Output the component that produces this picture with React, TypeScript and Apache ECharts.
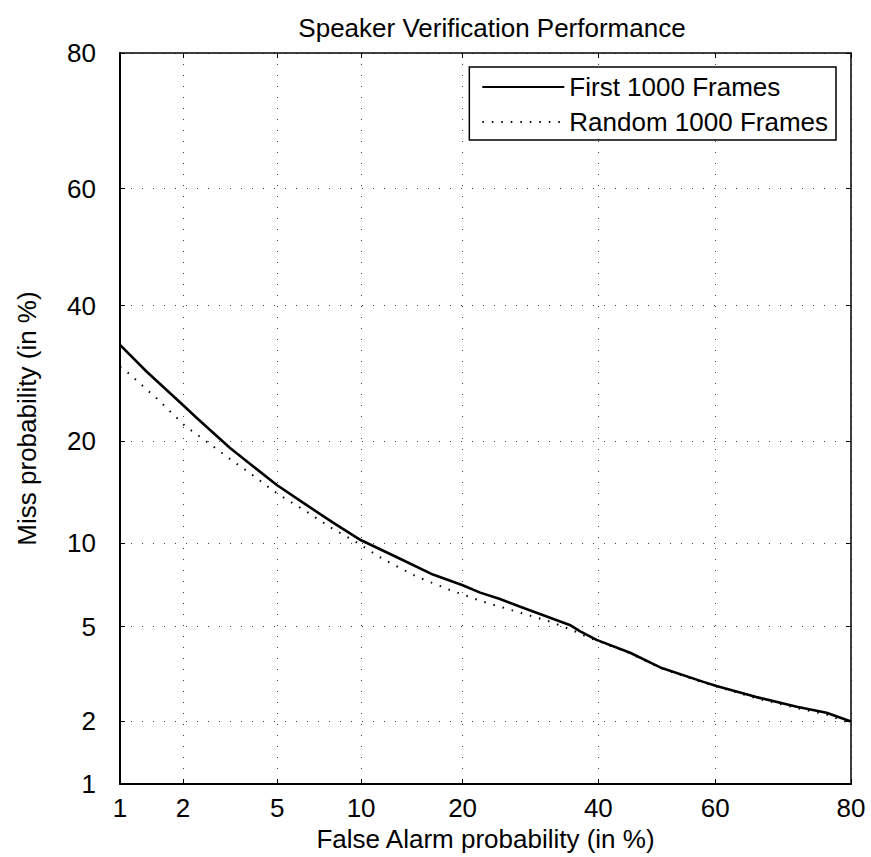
import React, { useEffect, useRef } from "react";
import * as echarts from "echarts";

// Tick labels (percent) shared by both axes
const tickPercents = [1, 2, 5, 10, 20, 40, 60, 80];

// "First 1000 Frames" (solid) — False Alarm % / Miss %
const firstFA = [1.0, 1.35, 2.0, 2.31, 3.22, 4.98, 6.26, 8.03, 9.97, 13.29, 16.6, 19.93, 22.2, 24.84, 27.7, 35.3, 37.0, 39.7, 45.4, 50.6, 58.0, 60.2, 66.7, 72.8, 76.9, 80.0];
const firstMiss = [33.6, 29.5, 24.7, 22.96, 19.2, 15.14, 13.41, 11.63, 10.22, 8.85, 7.8, 7.16, 6.72, 6.37, 5.96, 5.08, 4.8, 4.44, 3.94, 3.43, 2.98, 2.86, 2.56, 2.32, 2.18, 1.99];

// "Random 1000 Frames" (dotted)
const randomFA = [1.0, 1.07, 1.54, 2.05, 2.49, 3.27, 3.9, 4.98, 6.46, 8.05, 9.47, 11.8, 14.9, 18.5, 22.6, 27.2, 32.2, 35.6, 38.1, 45.4, 50.6, 58.0, 66.7, 72.8, 76.9, 80.0];
const randomMiss = [30.2, 29.6, 25.4, 21.9, 20.2, 17.8, 16.36, 14.31, 12.59, 11.08, 10.17, 8.81, 7.67, 6.87, 6.22, 5.71, 5.23, 4.86, 4.57, 3.92, 3.41, 2.96, 2.53, 2.29, 2.14, 1.95];

const seriesNames = ["First 1000 Frames", "Random 1000 Frames"];

// Inverse standard normal CDF (Acklam)
function probit(p: number): number {
  const a = [-3.969683028665376e1, 2.209460984245205e2, -2.759285104469687e2, 1.38357751867269e2, -3.066479806614716e1, 2.506628277459239];
  const b = [-5.447609879822406e1, 1.615858368580409e2, -1.556989798598866e2, 6.680131188771972e1, -1.328068155288572e1];
  const c = [-7.784894002430293e-3, -3.223964580411365e-1, -2.400758277161838, -2.549732539343734, 4.374664141464968, 2.938163982698783];
  const d = [7.784695709041462e-3, 3.224671290700398e-1, 2.445134137142996, 3.754408661907416];
  const pl = 0.02425;
  let q: number, r: number;
  if (p < pl) {
    q = Math.sqrt(-2 * Math.log(p));
    return (((((c[0] * q + c[1]) * q + c[2]) * q + c[3]) * q + c[4]) * q + c[5]) / ((((d[0] * q + d[1]) * q + d[2]) * q + d[3]) * q + 1);
  }
  if (p <= 1 - pl) {
    q = p - 0.5;
    r = q * q;
    return ((((((a[0] * r + a[1]) * r + a[2]) * r + a[3]) * r + a[4]) * r + a[5]) * q) / (((((b[0] * r + b[1]) * r + b[2]) * r + b[3]) * r + b[4]) * r + 1);
  }
  q = Math.sqrt(-2 * Math.log(1 - p));
  return -(((((c[0] * q + c[1]) * q + c[2]) * q + c[3]) * q + c[4]) * q + c[5]) / ((((d[0] * q + d[1]) * q + d[2]) * q + d[3]) * q + 1);
}

const pz = (percent: number) => probit(percent / 100);

export default function App() {
  const ref = useRef<HTMLDivElement>(null);

  useEffect(() => {
    if (!ref.current) return;
    const chart = echarts.init(ref.current, null, { renderer: "svg" });
    const lo = pz(tickPercents[0]);
    const hi = pz(tickPercents[tickPercents.length - 1]);
    const tickVals = tickPercents.map(pz);
    const fmt = (v: number) => {
      let best = 0;
      let bd = Infinity;
      tickVals.forEach((t, i) => {
        const dd = Math.abs(t - v);
        if (dd < bd) {
          bd = dd;
          best = i;
        }
      });
      return String(tickPercents[best]);
    };
    const font = "'Liberation Sans', Arial, Helvetica, sans-serif";
    const fs = 26;

    const gridLine = { show: true, lineStyle: { color: "#444", width: 1, type: [1, 10] } };

    const mainAxis = (name: string, nameGap: number, labelMargin: number) => ({
      type: "value",
      min: lo,
      max: hi,
      name,
      nameLocation: "middle",
      nameGap,
      nameTextStyle: { fontSize: fs, fontFamily: font, color: "#000" },
      axisLine: { show: true, onZero: false, lineStyle: { color: "#000", width: 2 } },
      axisTick: { show: true, inside: true, length: 5, customValues: tickVals, lineStyle: { color: "#000", width: 1 } },
      axisLabel: {
        show: true,
        customValues: tickVals,
        formatter: fmt,
        margin: labelMargin,
        fontSize: fs,
        fontFamily: font,
        color: "#000",
      },
      splitLine: gridLine,
    });

    const mirrorAxis = (position: string) => ({
      type: "value",
      position,
      min: lo,
      max: hi,
      axisLine: { show: true, onZero: false, lineStyle: { color: "#000", width: 1.5 } },
      axisTick: { show: true, inside: true, length: 5, customValues: tickVals, lineStyle: { color: "#000", width: 1 } },
      axisLabel: { show: false },
      splitLine: { show: false },
    });

    chart.setOption({
      animation: false,
      backgroundColor: "#fff",
      title: {
        text: "Speaker Verification Performance",
        left: 487,
        top: 10,
        textAlign: "center",
        textStyle: { fontSize: fs, fontWeight: "normal", fontFamily: font, color: "#000" },
      },
      legend: {
        orient: "vertical",
        right: 35,
        top: 67,
        padding: [7, 8, 5, 12],
        itemGap: 9,
        itemWidth: 82,
        itemHeight: 26,
        borderColor: "#000",
        borderWidth: 1.5,
        backgroundColor: "#fff",
        itemStyle: { opacity: 0 },
        textStyle: { fontSize: fs, fontFamily: font, color: "#000" },
        data: seriesNames,
      },
      grid: { left: 120, top: 53, width: 731, height: 731, containLabel: false },
      xAxis: [
        { ...mainAxis("False Alarm probability (in %)", 33, 11), position: "bottom" },
        mirrorAxis("top"),
      ],
      yAxis: [
        { ...mainAxis("Miss probability (in %)", 80, 24), position: "left" },
        mirrorAxis("right"),
      ],
      series: [
        {
          name: seriesNames[0],
          type: "line",
          symbol: "none",
          showSymbol: false,
          xAxisIndex: 0,
          yAxisIndex: 0,
          data: firstFA.map((f, i) => [pz(f), pz(firstMiss[i])]),
          lineStyle: { color: "#000", width: 2.6 },
          itemStyle: { color: "#000" },
          z: 3,
        },
        {
          name: seriesNames[1],
          type: "line",
          symbol: "none",
          showSymbol: false,
          xAxisIndex: 0,
          yAxisIndex: 0,
          data: randomFA.map((f, i) => [pz(f), pz(randomMiss[i])]),
          lineStyle: { color: "#000", width: 2, type: [1.5, 8] },
          itemStyle: { color: "#000" },
          z: 2,
        },
      ],
    });
    return () => chart.dispose();
  }, []);

  return (
    <div
      ref={ref}
      style={{ position: "absolute", left: 0, top: 0, width: 871, height: 857, background: "#fff" }}
    />
  );
}
